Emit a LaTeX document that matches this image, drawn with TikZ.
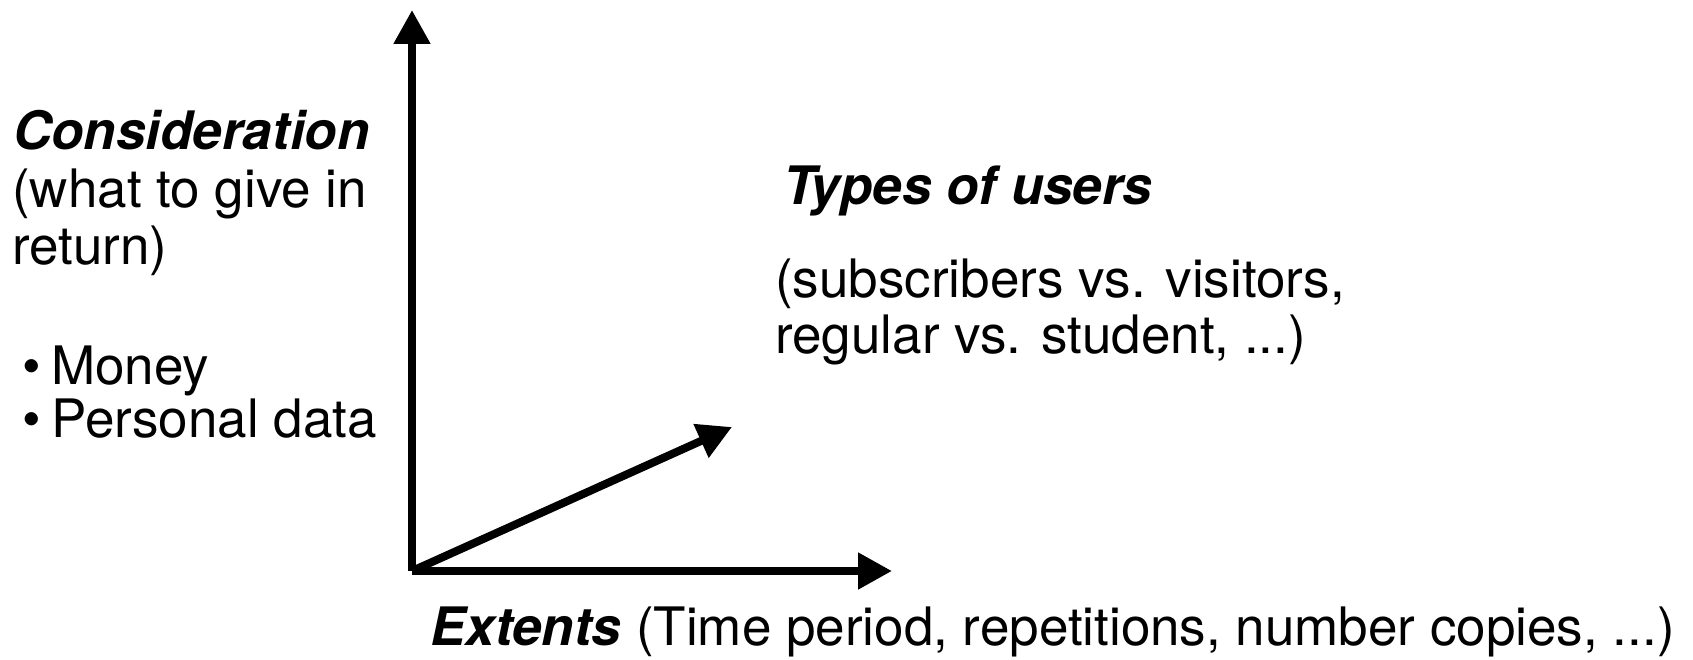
\documentclass[tikz,border=0pt]{standalone}
\usepackage{fontspec}
\setmainfont{TeX Gyre Heros}
\usetikzlibrary{arrows.meta}
\tikzset{
  axis/.style={line width=8pt, -{Triangle[length=34pt,width=35pt]}},
  lbl/.style={anchor=base west, inner sep=0pt, font=\fontsize{53pt}{58pt}\selectfont},
}
\begin{document}
\begin{tikzpicture}[x=1pt,y=-1pt]
\useasboundingbox (0,0) rectangle (1693,660);
\coordinate (O) at (412,571);
\coordinate (Ytip) at (412,10);
\coordinate (Xtip) at (892,571);
\coordinate (Dtip) at (732,427);
\draw[axis] (O) -- (Ytip);
\draw[axis] (O) -- (Xtip);
\draw[axis] (O) -- (Dtip);
\node[lbl] (cons) at (13,150) {\textbf{\textit{Consideration}}};
\node[lbl] (what) at (12,208) {(what to give in};
\node[lbl] (ret) at (12,265) {return)};
\node[lbl] (money) at (22,384) {\textbullet\hspace{0.2em}Money};
\node[lbl] (pers) at (22,437) {\textbullet\hspace{0.2em}Personal data};
\node[lbl] (types) at (783,205) {\textbf{\textit{Types of users}}};
\node[lbl] (subs) at (775,297) {(subscribers vs. visitors,};
\node[lbl] (reg) at (775,353) {regular vs. student, ...)};
\node[lbl] (ext) at (430,645) {\textbf{\textit{Extents}} (Time period, repetitions, number copies, ...)};
\end{tikzpicture}
\end{document}
